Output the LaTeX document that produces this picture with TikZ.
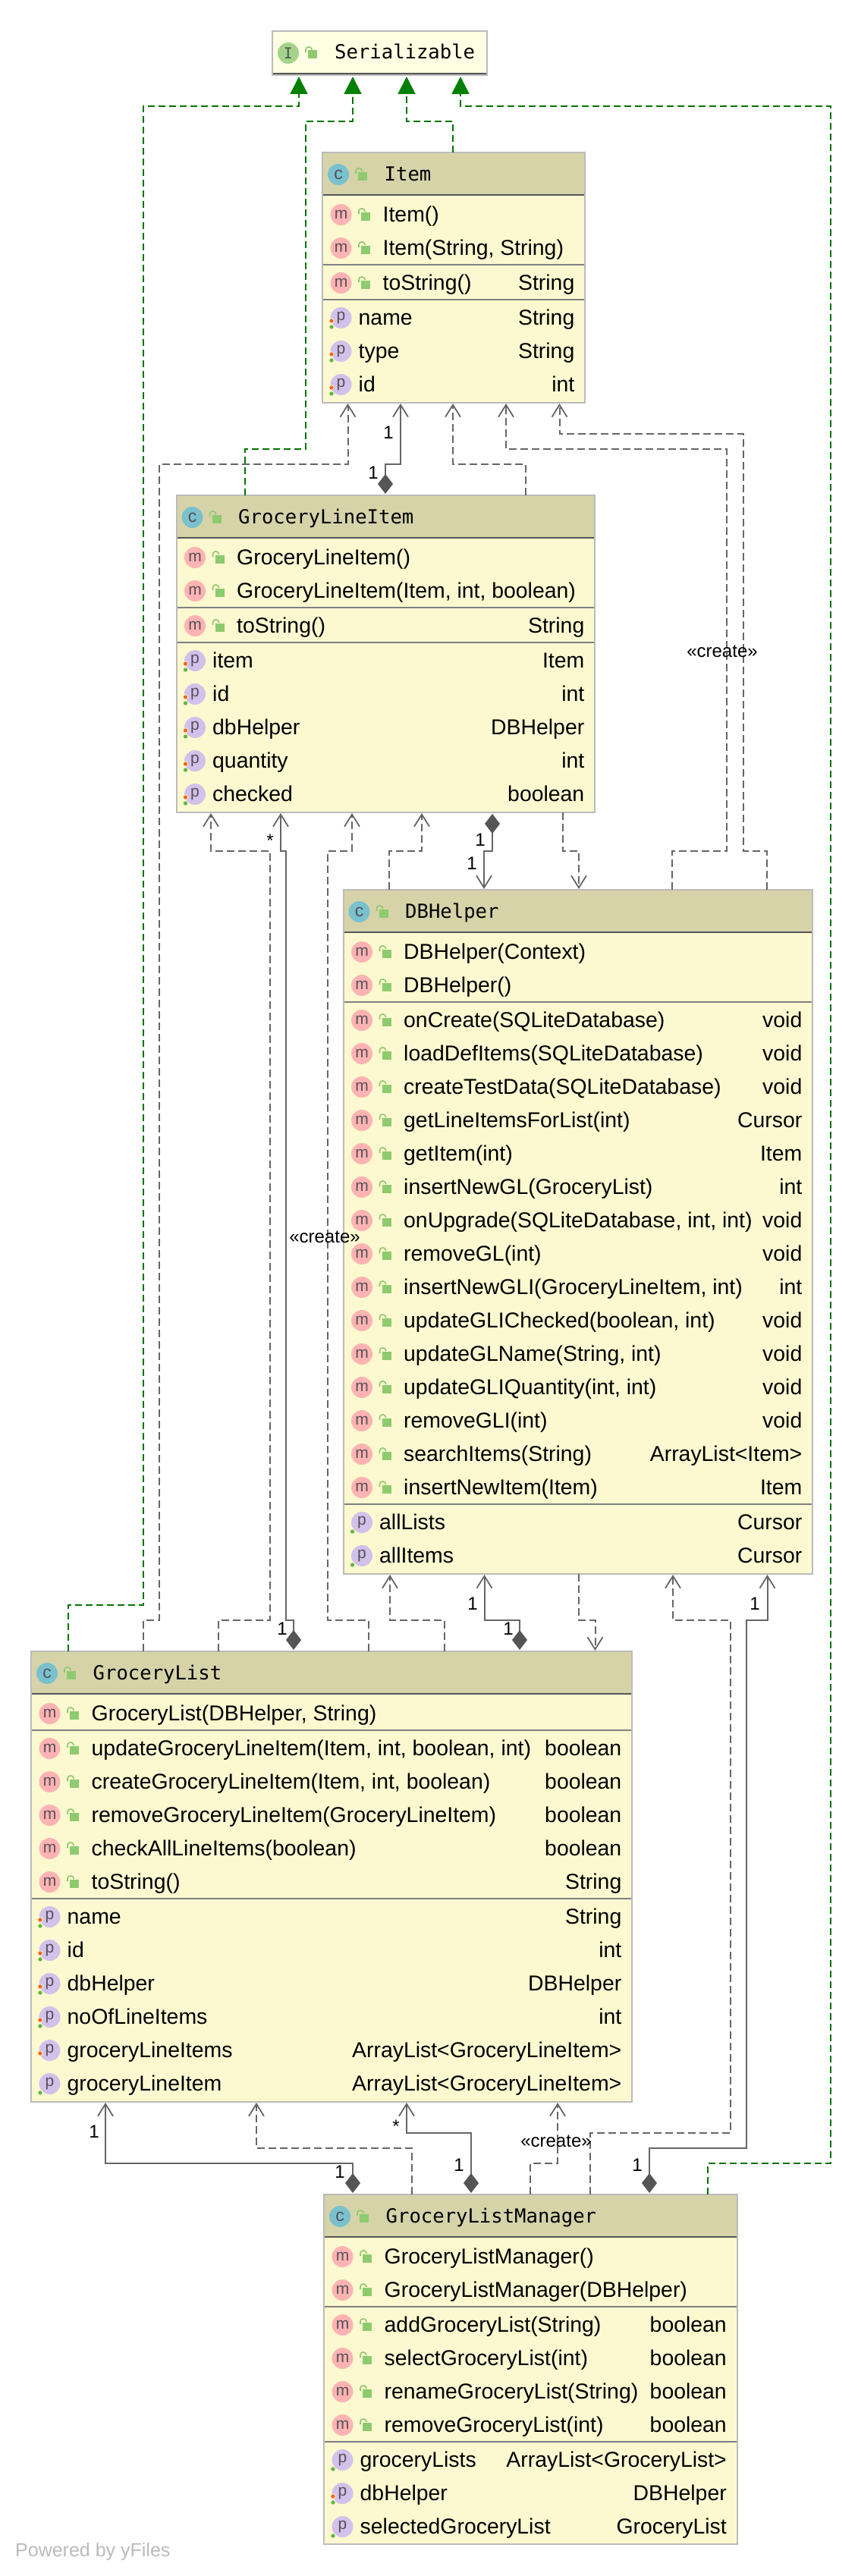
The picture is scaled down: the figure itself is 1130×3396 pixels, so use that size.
\documentclass[tikz,border=0pt]{standalone}
\usepackage{fontspec}
\setmainfont{Liberation Sans}
\newfontfamily\monof{DejaVu Sans Mono}
\usetikzlibrary{arrows.meta}
\definecolor{bodybg}{HTML}{FCF9D0}
\definecolor{hdrbg}{HTML}{D6D3A9}
\definecolor{serbg}{HTML}{FFFFE4}
\definecolor{edgegr}{HTML}{BBBBBB}
\definecolor{seplight}{HTML}{808080}
\definecolor{sepdark}{HTML}{555555}
\definecolor{conngr}{HTML}{666666}
\definecolor{realgr}{HTML}{008000}
\definecolor{mpink}{HTML}{FFB3B3}
\definecolor{ppurple}{HTML}{D2C1EA}
\definecolor{cblue}{HTML}{7AC1CE}
\definecolor{igreen}{HTML}{A3D48A}
\definecolor{lockgr}{HTML}{8DCB6E}
\definecolor{dotor}{HTML}{F26522}
\definecolor{dotgr}{HTML}{62B543}
\definecolor{iconink}{HTML}{555058}
\newcount\rowno
\newcommand{\nextrow}{\global\advance\rowno by 1\relax}
\newcommand{\lockicon}[2]{%
  \fill[lockgr] (#1+3,#2-3.5) rectangle (#1+15,#2+7.5);
  \draw[lockgr,line width=1.6pt,rounded corners=3.5pt] (#1,#2-1) -- (#1,#2-8) -- (#1+8,#2-8) -- (#1+8,#2-4);
}
\newcommand{\classbox}[7]{% id x1 y1 x2 y2 title letter
  \node[boxbody,minimum width={(#4-#2)*1pt},minimum height={(#5-#3)*1pt},anchor=north west] (#1) at (#2,#3) {};
  \fill[hdrbg] (#2,#3) rectangle (#4,#3+56);
  \draw[sepdark,line width=2pt] (#2,#3+56) -- (#4,#3+56);
  \draw[edgegr,line width=2pt] (#2,#3) rectangle (#4,#5);
  \node[iconbase,fill=cblue,font=\fontsize{23}{24}\selectfont] (#1-icon) at (#2+21,#3+29) {#7};
  \lockicon{#2+44}{#3+29}
  \node[titletext] (#1-title) at (#2+81.5,#3+37) {#6};
}
\newcommand{\sepline}[3]{\draw[seplight,line width=2pt] (#1+1,#3) -- (#2-1,#3);}
\newcommand{\mrow}[5]{% x1 x2 y name type
  \nextrow
  \node[iconbase,fill=mpink] (ri\the\rowno) at (#1+24.5,#3) {m};
  \lockicon{#1+48}{#3}
  \node[rowtext] (rn\the\rowno) at (#1+79.5,#3+9.5) {#4};
  \node[typetext] (rt\the\rowno) at (#2-13.5,#3+9.5) {#5};
}
\newcommand{\prow}[6]{% x1 x2 y name type dots
  \nextrow
  \node[iconbase,fill=ppurple] (ri\the\rowno) at (#1+24.5,#3) {\raisebox{2pt}{p}};
  \ifnum#6>1 \fill[dotor,draw=bodybg,line width=0.8pt] (#1+12,#3+4) circle (3.2);\fi
  \ifodd#6 \fill[dotgr,draw=bodybg,line width=0.8pt] (#1+12,#3+12) circle (3.2);\fi
  \node[rowtext] (rn\the\rowno) at (#1+47.5,#3+9.5) {#4};
  \node[typetext] (rt\the\rowno) at (#2-13.5,#3+9.5) {#5};
}
\tikzset{
  boxbody/.style={rectangle,draw=edgegr,line width=2pt,fill=bodybg,inner sep=0pt,outer sep=0pt},
  iconbase/.style={circle,minimum size=28pt,inner sep=0pt,outer sep=0pt,text=iconink,font=\fontsize{21}{22}\selectfont},
  titletext/.style={anchor=base west,inner sep=0pt,font=\monof\fontsize{25.6}{28}\selectfont},
  rowtext/.style={anchor=base west,inner sep=0pt,font=\fontsize{28.4}{30}\selectfont},
  typetext/.style={anchor=base east,inner sep=0pt,font=\fontsize{28.4}{30}\selectfont},
  edgelabel/.style={inner sep=0pt,font=\fontsize{24}{26}\selectfont},
  connbase/.style={line width=2pt,draw=conngr},
  dep/.style={connbase,dash pattern=on 10pt off 5pt,-{Straight Barb[length=16pt,width=20pt,line width=1.8pt]},shorten >=1pt},
  comp/.style={connbase,{Diamond[length=26pt,width=20pt,fill=sepdark,sepdark]}-{Straight Barb[length=16pt,width=20pt,line width=1.8pt]},shorten >=1pt,shorten <=2pt},
  real/.style={line width=2pt,draw=realgr!90!black,dash pattern=on 9pt off 5pt,-{Triangle[length=23pt,width=23pt,fill=realgr,realgr]},shorten >=2pt},
}
\begin{document}
\begin{tikzpicture}[x=1pt,y=-1pt]
\useasboundingbox (0,0) rectangle (1130,3396);
\fill[white] (0,0) rectangle (1130,3396);

% Serializable
\node[boxbody,fill=serbg,minimum width=283pt,minimum height=58pt,anchor=north west] (ser) at (359,41) {};
\draw[sepdark,line width=2pt] (360,97) -- (641,97);
\node[iconbase,fill=igreen,font=\monof\fontsize{20}{22}\selectfont] (ser-icon) at (380,70) {I};
\lockicon{403}{70}
\node[titletext] (ser-title) at (441,78) {Serializable};

% Item
\classbox{item}{425}{201}{771}{531}{Item}{c}
\mrow{425}{771}{283}{Item()}{}
\mrow{425}{771}{327}{Item(String, String)}{}
\sepline{425}{771}{349}
\mrow{425}{771}{373}{toString()}{String}
\sepline{425}{771}{395}
\prow{425}{771}{419}{name}{String}{3}
\prow{425}{771}{463}{type}{String}{3}
\prow{425}{771}{507}{id}{int}{3}

% GroceryLineItem
\classbox{gli}{232.5}{653}{784}{1071}{GroceryLineItem}{c}
\mrow{232.5}{784}{735}{GroceryLineItem()}{}
\mrow{232.5}{784}{779}{GroceryLineItem(Item, int, boolean)}{}
\sepline{232.5}{784}{801}
\mrow{232.5}{784}{825}{toString()}{String}
\sepline{232.5}{784}{847}
\prow{232.5}{784}{871}{item}{Item}{3}
\prow{232.5}{784}{915}{id}{int}{3}
\prow{232.5}{784}{959}{dbHelper}{DBHelper}{3}
\prow{232.5}{784}{1003}{quantity}{int}{3}
\prow{232.5}{784}{1047}{checked}{boolean}{3}

% DBHelper
\classbox{dbh}{452.5}{1173}{1071}{2075}{DBHelper}{c}
\mrow{452.5}{1071}{1255}{DBHelper(Context)}{}
\mrow{452.5}{1071}{1299}{DBHelper()}{}
\sepline{452.5}{1071}{1321}
\mrow{452.5}{1071}{1345}{onCreate(SQLiteDatabase)}{void}
\mrow{452.5}{1071}{1389}{loadDefItems(SQLiteDatabase)}{void}
\mrow{452.5}{1071}{1433}{createTestData(SQLiteDatabase)}{void}
\mrow{452.5}{1071}{1477}{getLineItemsForList(int)}{Cursor}
\mrow{452.5}{1071}{1521}{getItem(int)}{Item}
\mrow{452.5}{1071}{1565}{insertNewGL(GroceryList)}{int}
\mrow{452.5}{1071}{1609}{onUpgrade(SQLiteDatabase, int, int)}{void}
\mrow{452.5}{1071}{1653}{removeGL(int)}{void}
\mrow{452.5}{1071}{1697}{insertNewGLI(GroceryLineItem, int)}{int}
\mrow{452.5}{1071}{1741}{updateGLIChecked(boolean, int)}{void}
\mrow{452.5}{1071}{1785}{updateGLName(String, int)}{void}
\mrow{452.5}{1071}{1829}{updateGLIQuantity(int, int)}{void}
\mrow{452.5}{1071}{1873}{removeGLI(int)}{void}
\mrow{452.5}{1071}{1917}{searchItems(String)}{ArrayList<Item>}
\mrow{452.5}{1071}{1961}{insertNewItem(Item)}{Item}
\sepline{452.5}{1071}{1983}
\prow{452.5}{1071}{2007}{allLists}{Cursor}{1}
\prow{452.5}{1071}{2051}{allItems}{Cursor}{1}

% GroceryList
\classbox{gl}{41}{2177}{833}{2771}{GroceryList}{c}
\mrow{41}{833}{2259}{GroceryList(DBHelper, String)}{}
\sepline{41}{833}{2281}
\mrow{41}{833}{2305}{updateGroceryLineItem(Item, int, boolean, int)}{boolean}
\mrow{41}{833}{2349}{createGroceryLineItem(Item, int, boolean)}{boolean}
\mrow{41}{833}{2393}{removeGroceryLineItem(GroceryLineItem)}{boolean}
\mrow{41}{833}{2437}{checkAllLineItems(boolean)}{boolean}
\mrow{41}{833}{2481}{toString()}{String}
\sepline{41}{833}{2503}
\prow{41}{833}{2527}{name}{String}{3}
\prow{41}{833}{2571}{id}{int}{3}
\prow{41}{833}{2615}{dbHelper}{DBHelper}{3}
\prow{41}{833}{2659}{noOfLineItems}{int}{3}
\prow{41}{833}{2703}{groceryLineItems}{ArrayList<GroceryLineItem>}{2}
\prow{41}{833}{2747}{groceryLineItem}{ArrayList<GroceryLineItem>}{1}

% GroceryListManager
\classbox{glm}{427}{2893}{971.5}{3354}{GroceryListManager}{c}
\mrow{427}{971.5}{2975}{GroceryListManager()}{}
\mrow{427}{971.5}{3019}{GroceryListManager(DBHelper)}{}
\sepline{427}{971.5}{3041}
\mrow{427}{971.5}{3065}{addGroceryList(String)}{boolean}
\mrow{427}{971.5}{3109}{selectGroceryList(int)}{boolean}
\mrow{427}{971.5}{3153}{renameGroceryList(String)}{boolean}
\mrow{427}{971.5}{3197}{removeGroceryList(int)}{boolean}
\sepline{427}{971.5}{3219}
\prow{427}{971.5}{3243}{groceryLists}{ArrayList<GroceryList>}{1}
\prow{427}{971.5}{3287}{dbHelper}{DBHelper}{3}
\prow{427}{971.5}{3331}{selectedGroceryList}{GroceryList}{1}

% realization connectors
\draw[real] (90,0 |- gl.north) -- (90,2116) -- (189,2116) -- (189,140) -- (394,140) -- (394,0 |- ser.south);
\draw[real] (323,0 |- gli.north) -- (323,592) -- (403,592) -- (403,160) -- (465,160) -- (465,0 |- ser.south);
\draw[real] (597,0 |- item.north) -- (597,160) -- (536,160) -- (536,0 |- ser.south);
\draw[real] (933,0 |- glm.north) -- (933,2852) -- (1095,2852) -- (1095,140) -- (607,140) -- (607,0 |- ser.south);

% dependency connectors
\draw[dep] (189,0 |- gl.north) -- (189,2136) -- (210,2136) -- (210,612) -- (458.5,612) -- (458.5,0 |- item.south);
\draw[dep] (288,0 |- gl.north) -- (288,2136) -- (356,2136) -- (356,1122) -- (278,1122) -- (278,0 |- gli.south);
\draw[dep] (486,0 |- gl.north) -- (486,2136) -- (432,2136) -- (432,1122) -- (464,1122) -- (464,0 |- gli.south);
\draw[dep] (586,0 |- gl.north) -- (586,2136) -- (514,2136) -- (514,0 |- dbh.south);
\draw[dep] (763,0 |- dbh.south) -- (763,2136) -- (784.5,2136) -- (784.5,0 |- gl.north);
\draw[dep] (513,0 |- dbh.north) -- (513,1122) -- (556,1122) -- (556,0 |- gli.south);
\draw[dep] (742,0 |- gli.south) -- (742,1122) -- (763,1122) -- (763,0 |- dbh.north);
\draw[dep] (693,0 |- gli.north) -- (693,612) -- (597,612) -- (597,0 |- item.south);
\draw[dep] (886,0 |- dbh.north) -- (886,1122) -- (958,1122) -- (958,592) -- (667,592) -- (667,0 |- item.south);
\draw[dep] (1011,0 |- dbh.north) -- (1011,1122) -- (980,1122) -- (980,572) -- (737.5,572) -- (737.5,0 |- item.south);
\draw[dep] (543,0 |- glm.north) -- (543,2832) -- (338,2832) -- (338,0 |- gl.south);
\draw[dep] (699,0 |- glm.north) -- (699,2852) -- (735,2852) -- (735,0 |- gl.south);
\draw[dep] (778,0 |- glm.north) -- (778,2812) -- (963,2812) -- (963,2136) -- (887,2136) -- (887,0 |- dbh.south);

% composition connectors
\draw[comp] (508,0 |- gli.north) -- (508,612) -- (528,612) -- (528,0 |- item.south);
\draw[comp] (649,0 |- gli.south) -- (649,1122) -- (638,1122) -- (638,0 |- dbh.north);
\draw[comp] (387,0 |- gl.north) -- (387,2136) -- (377,2136) -- (377,1122) -- (370,1122) -- (370,0 |- gli.south);
\draw[comp] (685,0 |- gl.north) -- (685,2136) -- (638.5,2136) -- (638.5,0 |- dbh.south);
\draw[comp] (465,0 |- glm.north) -- (465,2852) -- (139,2852) -- (139,0 |- gl.south);
\draw[comp] (621,0 |- glm.north) -- (621,2812) -- (536,2812) -- (536,0 |- gl.south);
\draw[comp] (856,0 |- glm.north) -- (856,2832) -- (984,2832) -- (984,2136) -- (1011.5,2136) -- (1011.5,0 |- dbh.south);

% connector labels
\node[edgelabel] (l1) at (512,570) {1};
\node[edgelabel] (l2) at (492,623) {1};
\node[edgelabel] (l3) at (633,1107) {1};
\node[edgelabel] (l4) at (622,1138) {1};
\node[edgelabel] (l5) at (356,1108) {*};
\node[edgelabel] (l6) at (623,2114) {1};
\node[edgelabel] (l7) at (995,2114) {1};
\node[edgelabel] (l8) at (372,2147) {1};
\node[edgelabel] (l9) at (670,2147) {1};
\node[edgelabel] (l10) at (124,2810) {1};
\node[edgelabel] (l11) at (522,2803) {*};
\node[edgelabel] (l12) at (448,2863) {1};
\node[edgelabel] (l13) at (605,2854) {1};
\node[edgelabel] (l14) at (840,2854) {1};
\node[edgelabel] (l15) at (733,2823) {«create»};
\node[edgelabel] (l16) at (428,1631) {«create»};
\node[edgelabel] (l17) at (952,859) {«create»};

\node[anchor=west,inner sep=0pt,text=edgegr,font=\fontsize{25}{27}\selectfont] (yf) at (20,3364) {Powered by yFiles};
\end{tikzpicture}
\end{document}
